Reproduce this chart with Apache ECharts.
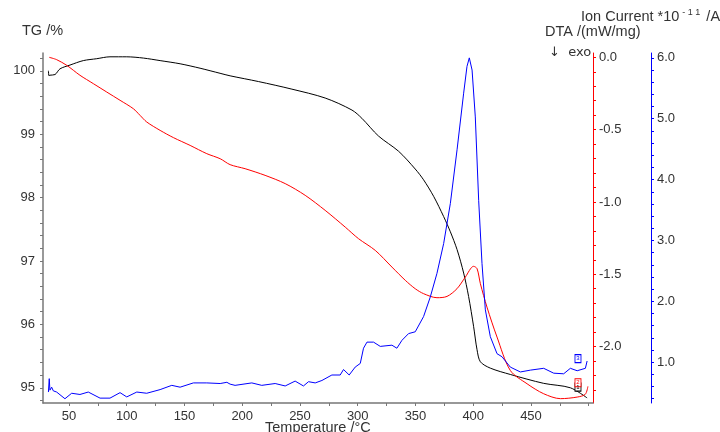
<!DOCTYPE html>
<html>
<head>
<meta charset="utf-8">
<script src="https://cdn.jsdelivr.net/npm/echarts@6/dist/echarts.min.js"></script>
<style>
  html, body { margin: 0; padding: 0; background: #fff; }
  #chart { width: 720px; height: 432px; }
</style>
</head>
<body>
<div id="chart"></div>
<script>
// TG curve (black), temperature in °C and mass in %
var tgTemp = [32.2, 32.7, 33.5, 37.9, 42.2, 50.9, 62.4, 74.0, 85.5, 100, 114.4, 128.9, 146.2, 163.5, 180.8, 189.5,
    214.0, 243.0, 271.8, 295.0, 303.6, 318.0, 335.4, 349.8, 357.0, 365.7, 374.4, 380.2, 386.0, 391.7, 396.0,
    400.3, 403.3, 406.2, 414.8, 432.1, 461.0, 484.1, 498.6];
var tgVal = [100.0, 99.92, 99.93, 99.94, 100.03, 100.09, 100.16, 100.19, 100.22, 100.22, 100.20, 100.16, 100.11, 100.04, 99.96, 99.92,
    99.83, 99.71, 99.57, 99.38, 99.25, 98.97, 98.73, 98.45, 98.28, 98.02, 97.70, 97.46, 97.18, 96.81, 96.44,
    95.97, 95.60, 95.41, 95.31, 95.21, 95.07, 95.00, 94.84];

// DTA curve (red), mW/mg
var dtaTemp = [32.9, 39.3, 48.0, 59.5, 71.1, 82.7, 94.2, 105.7, 111.5, 117.3, 128.9, 140.4, 154.9, 169.3, 180.9, 189.5,
    202.5, 219.8, 237.2, 254.5, 271.8, 289.2, 300.7, 315.2, 329.6, 341.2, 349.8, 357.0, 368.6, 377.3, 385.9,
    393.2, 400.3, 403.3, 406.2, 411.9, 420.6, 432.1, 446.6, 461.0, 475.5, 490.0, 497.0, 499.3];
var dtaVal = [0.0, -0.016, -0.055, -0.124, -0.182, -0.240, -0.297, -0.355, -0.401, -0.447, -0.505, -0.555, -0.609, -0.666, -0.701, -0.742,
    -0.770, -0.816, -0.873, -0.954, -1.058, -1.174, -1.254, -1.335, -1.450, -1.542, -1.600, -1.634, -1.662, -1.653, -1.600,
    -1.519, -1.445, -1.461, -1.565, -1.727, -1.934, -2.165, -2.257, -2.326, -2.360, -2.349, -2.33, -2.275];

// Ion current curve (blue), *10^-11 A
var ionTemp = [32.2, 32.9, 33.5, 35.0, 36.4, 39.3, 46.5, 52.3, 59.5, 66.7, 76.9, 85.5, 94.2, 100.0, 108.7, 117.3,
    128.9, 139.0, 146.2, 157.7, 169.3, 180.9, 186.7, 189.5, 193.8, 208.3, 216.9, 228.5, 237.2, 245.8, 253.0,
    257.4, 263.2, 269.0, 277.6, 284.8, 287.7, 292.6, 297.8, 302.2, 305.0, 308.0, 313.7, 319.5, 329.6, 333.9,
    338.3, 344.0, 349.8, 351.3, 357.0, 362.8, 368.6, 374.4, 380.2, 386.0, 391.7, 394.6, 396.6, 399.0, 401.8,
    404.7, 407.6, 410.5, 414.8, 420.6, 424.9, 432.1, 440.8, 449.5, 461.0, 469.7, 478.3, 484.1, 490.0, 497.1, 498.6];
var ionVal = [0.51, 0.73, 0.54, 0.59, 0.53, 0.51, 0.40, 0.49, 0.47, 0.51, 0.41, 0.41, 0.50, 0.43, 0.51, 0.49,
    0.55, 0.62, 0.59, 0.66, 0.66, 0.65, 0.67, 0.64, 0.62, 0.66, 0.62, 0.65, 0.61, 0.69, 0.61,
    0.68, 0.66, 0.70, 0.79, 0.79, 0.88, 0.79, 0.92, 0.98, 1.23, 1.33, 1.33, 1.26, 1.28, 1.23,
    1.36, 1.47, 1.50, 1.53, 1.75, 2.07, 2.46, 2.95, 3.61, 4.49, 5.42, 5.86, 6.00, 5.80, 5.03,
    3.66, 2.62, 1.86, 1.42, 1.14, 1.09, 0.92, 0.84, 0.87, 0.90, 0.82, 0.81, 0.90, 0.86, 0.90, 1.02];

// tick labels
var xLabels = [50, 100, 150, 200, 250, 300, 350, 400, 450];
var tgLabels = [95, 96, 97, 98, 99, 100];
var dtaLabels = [0.0, -0.5, -1.0, -1.5, -2.0];
var ionLabels = [1.0, 2.0, 3.0, 4.0, 5.0, 6.0];

// curve number flags at the right end
var flagTemp = 490.7;
var flagTg = 95.01, flagDta = -2.25, flagIon = 1.06;

function pairs(xs, ys) {
    return xs.map(function (x, i) { return [x, ys[i]]; });
}
function steps(from, to, step) {
    var out = [];
    for (var v = from; v <= to + 1e-9; v += step) out.push(Math.round(v * 100) / 100);
    return out;
}

var font = '"Liberation Sans", Arial, sans-serif';
var txt = '#333';

function flag(coord, text, color) {
    return {
        silent: true,
        symbol: 'rect',
        symbolSize: [6, 8],
        itemStyle: { color: '#fff', borderColor: color, borderWidth: 1 },
        label: { show: true, position: 'inside', formatter: text, fontSize: 6, color: color, fontFamily: font },
        data: [{ coord: coord }]
    };
}

var chart = echarts.init(document.getElementById('chart'));
var option = {
    animation: false,
    backgroundColor: '#fff',
    grid: { left: 43, right: 127, top: 53, bottom: 29 },
    xAxis: {
        type: 'value',
        min: 27.5,
        max: 503.7,
        axisLine: { show: true, onZero: false, lineStyle: { color: '#777', width: 1.5 } },
        axisTick: { show: true, length: 3, customValues: steps(50, 500, 25), lineStyle: { color: '#777' } },
        axisLabel: { customValues: xLabels, color: txt, fontSize: 13, fontFamily: font, margin: 7 },
        splitLine: { show: false }
    },
    yAxis: [{
        type: 'value',
        position: 'left',
        min: 94.76,
        max: 100.28,
        axisLine: { show: true, onZero: false, lineStyle: { color: '#777', width: 1.5 } },
        axisTick: { show: true, length: 3, customValues: steps(94.8, 100.2, 0.2), lineStyle: { color: '#777' } },
        axisLabel: { customValues: tgLabels, color: txt, fontSize: 13, fontFamily: font, margin: 8 },
        splitLine: { show: false }
    }, {
        type: 'value',
        position: 'right',
        min: -2.39,
        max: 0.03,
        axisLine: { show: true, onZero: false, lineStyle: { color: '#ff0000', width: 1 } },
        axisTick: { show: true, length: 3, customValues: steps(-2.3, 0, 0.1), lineStyle: { color: '#ff0000' } },
        axisLabel: {
            customValues: dtaLabels, color: txt, fontSize: 13, fontFamily: font, margin: 6,
            formatter: function (v) { return v.toFixed(1); }
        },
        splitLine: { show: false }
    }, {
        type: 'value',
        position: 'right',
        offset: 58,
        min: 0.33,
        max: 6.08,
        axisLine: { show: true, onZero: false, lineStyle: { color: '#0000ff', width: 1 } },
        axisTick: { show: true, length: 3, customValues: steps(0.4, 6.0, 0.2), lineStyle: { color: '#0000ff' } },
        axisLabel: {
            customValues: ionLabels, color: txt, fontSize: 13, fontFamily: font, margin: 6,
            formatter: function (v) { return v.toFixed(1); }
        },
        splitLine: { show: false }
    }],
    series: [{
        name: 'TG',
        type: 'line',
        yAxisIndex: 0,
        data: pairs(tgTemp, tgVal),
        showSymbol: false,
        smooth: 0.3,
        lineStyle: { color: '#000', width: 1 },
        markPoint: flag([flagTemp, flagTg], '1', '#000')
    }, {
        name: 'DTA',
        type: 'line',
        yAxisIndex: 1,
        data: pairs(dtaTemp, dtaVal),
        showSymbol: false,
        smooth: 0.3,
        lineStyle: { color: '#ff0000', width: 1 },
        markPoint: flag([flagTemp, flagDta], '2', '#ff0000')
    }, {
        name: 'Ion',
        type: 'line',
        yAxisIndex: 2,
        data: pairs(ionTemp, ionVal),
        showSymbol: false,
        lineStyle: { color: '#0000ff', width: 1 },
        markPoint: flag([flagTemp, flagIon], '3', '#0000ff')
    }],
    graphic: [{
        type: 'text', left: 22, top: 23,
        style: { text: 'TG /%', fontSize: 14.5, fontFamily: font, fill: txt }
    }, {
        type: 'text', left: 581, top: 8,
        style: {
            text: '{a|Ion Current *10}{s|- 1 1}{a| /A}',
            rich: {
                a: { fontSize: 14.5, fontFamily: font, fill: txt },
                s: { fontSize: 9, fontFamily: font, fill: txt, padding: [0, 2, 8, 3] }
            }
        }
    }, {
        type: 'text', left: 545, top: 24,
        style: { text: 'DTA /(mW/mg)', fontSize: 14.5, fontFamily: font, fill: txt }
    }, {
        type: 'text', left: 549, top: 46,
        style: { text: '\u2193  exo', fontSize: 13, fontFamily: '"DejaVu Sans", ' + font, fill: txt }
    }, {
        type: 'text', left: 265, top: 420,
        style: { text: 'Temperature /\u00b0C', fontSize: 14.5, fontFamily: font, fill: txt }
    }]
};
chart.setOption(option);
</script>
</body>
</html>
